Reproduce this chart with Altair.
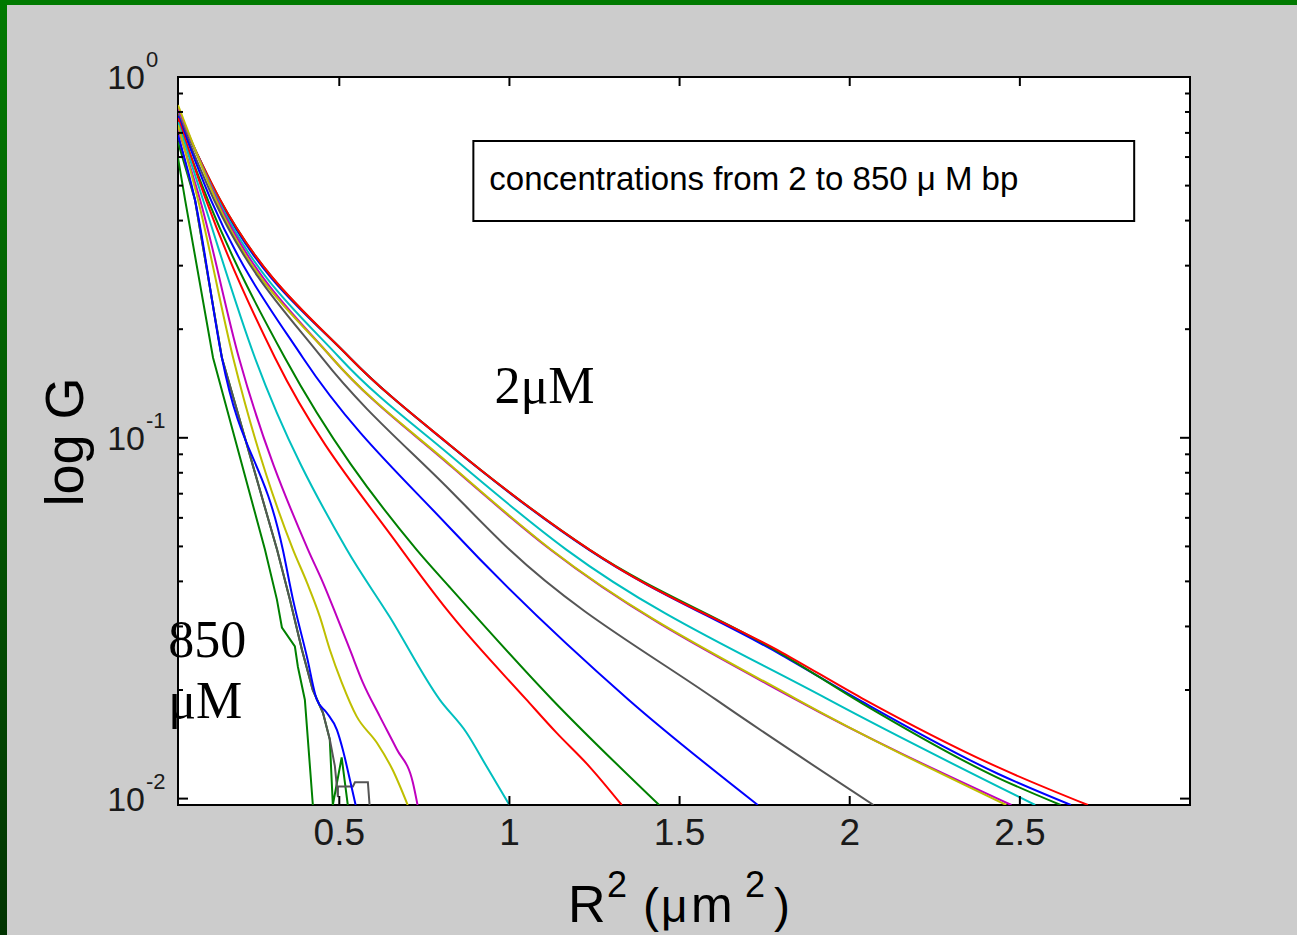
import altair as alt
import pandas as pd

# ---------------- data ----------------
# axis ranges
X_DOMAIN = [0.026, 3.0]
Y_DOMAIN = [0.0096, 1.0]

# tick values / labels
X_TICKS = [0.5, 1.0, 1.5, 2.0, 2.5]
X_TICK_LABELS = ["0.5", "1", "1.5", "2", "2.5"]
Y_MAJOR = [1.0, 0.1, 0.01]
Y_MAJOR_BASE = ["10", "10", "10"]
Y_MAJOR_EXP = ["0", "-1", "-2"]
Y_MINOR = [0.02, 0.03, 0.04, 0.05, 0.06, 0.07, 0.08, 0.09,
           0.2, 0.3, 0.4, 0.5, 0.6, 0.7, 0.8, 0.9]

# curves: R^2 (um^2) and G, from 2 uM (c01) to 850 uM (c17)
c01_r2 = [0.026, 0.145, 0.531, 0.824, 1.235, 1.314, 1.801, 2.035, 2.437, 2.70]
c01_g = [0.795, 0.466, 0.1667, 0.0957, 0.049, 0.0439, 0.0254, 0.0190, 0.0122, 0.0096]
c02_r2 = [0.026, 0.148, 0.531, 0.824, 1.235, 1.80, 2.035, 2.437, 2.65]
c02_g = [0.80, 0.456, 0.1667, 0.0955, 0.0488, 0.0250, 0.0186, 0.0117, 0.0096]
c03_r2 = [0.026, 0.150, 0.531, 0.824, 1.235, 1.80, 2.035, 2.437, 2.62]
c03_g = [0.79, 0.456, 0.1667, 0.0957, 0.049, 0.0252, 0.0184, 0.0114, 0.0096]
c04_r2 = [0.026, 0.144, 0.501, 0.824, 1.167, 1.938, 2.545]
c04_g = [0.81, 0.456, 0.1667, 0.0897, 0.049, 0.0188, 0.0096]
c05_r2 = [0.026, 0.141, 0.478, 0.824, 1.12, 1.842, 2.475]
c05_g = [0.82, 0.456, 0.1667, 0.0841, 0.049, 0.0188, 0.0096]
c06_r2 = [0.026, 0.138, 0.478, 0.824, 1.12, 1.842, 2.46]
c06_g = [0.836, 0.456, 0.1667, 0.0845, 0.0492, 0.0189, 0.0096]
c07_r2 = [0.026, 0.132, 0.449, 0.824, 1.0, 1.607, 2.07]
c07_g = [0.785, 0.456, 0.1667, 0.0718, 0.049, 0.0188, 0.0096]
c08_r2 = [0.026, 0.123, 0.393, 0.824, 1.35, 1.73]
c08_g = [0.78, 0.456, 0.1667, 0.0564, 0.0188, 0.0096]
c09_r2 = [0.026, 0.114, 0.340, 0.727, 0.824, 1.126, 1.44]
c09_g = [0.75, 0.456, 0.1667, 0.049, 0.0386, 0.0188, 0.0096]
c10_r2 = [0.026, 0.1085, 0.311, 0.683, 0.824, 1.050, 1.138, 1.235, 1.33]
c10_g = [0.77, 0.456, 0.1667, 0.049, 0.0327, 0.0188, 0.01523, 0.01227, 0.0096]
c11_r2 = [0.026, 0.0997, 0.252, 0.522, 0.648, 0.795, 0.874, 0.933, 1.0]
c11_g = [0.75, 0.456, 0.1667, 0.049, 0.0319, 0.0188, 0.01523, 0.01227, 0.0096]
c12_r2 = [0.026, 0.091, 0.205, 0.408, 0.452, 0.493, 0.531, 0.569, 0.619, 0.669, 0.716, 0.730]
c12_g = [0.72, 0.456, 0.1667, 0.049, 0.0397, 0.0319, 0.0259, 0.0210, 0.0169, 0.0137, 0.0111, 0.0096]
c13_r2 = [0.026, 0.085, 0.188, 0.364, 0.405, 0.443, 0.472, 0.507, 0.551, 0.610, 0.657, 0.701]
c13_g = [0.736, 0.456, 0.1667, 0.049, 0.0397, 0.0319, 0.0259, 0.0210, 0.0169, 0.0143, 0.0120, 0.0096]
c14_r2 = [0.026, 0.076, 0.155, 0.317, 0.355, 0.390, 0.422, 0.452, 0.472, 0.487, 0.496,
          0.496, 0.540, 0.546, 0.584, 0.589]
c14_g = [0.69, 0.456, 0.1667, 0.049, 0.0356, 0.0259, 0.0200, 0.0173, 0.0146, 0.0123, 0.0101,
         0.0108, 0.0108, 0.0111, 0.0111, 0.0096]
c15_r2 = [0.026, 0.076, 0.155, 0.334, 0.364, 0.405, 0.434, 0.463, 0.493, 0.510, 0.531, 0.548]
c15_g = [0.69, 0.456, 0.1667, 0.049, 0.0356, 0.0247, 0.0188, 0.0173, 0.0155, 0.0137, 0.0113, 0.0096]
c16_r2 = [0.026, 0.076, 0.155, 0.317, 0.355, 0.390, 0.422, 0.452, 0.472, 0.481, 0.507, 0.525]
c16_g = [0.66, 0.456, 0.1667, 0.049, 0.0356, 0.0259, 0.0200, 0.0173, 0.0146, 0.0096, 0.0130, 0.0096]
c17_r2 = [0.026, 0.047, 0.129, 0.2815, 0.3167, 0.3314, 0.3695, 0.3783, 0.3988, 0.4223]
c17_g = [0.597, 0.456, 0.1667, 0.049, 0.0356, 0.0298, 0.0264, 0.0232, 0.0188, 0.0096]

BLUE, GREEN, RED = "#0000FF", "#008000", "#FF0000"
CYAN, MAGENTA, YELLOW, GRAY = "#00BFBF", "#BF00BF", "#BFBF00", "#555555"

# drawing order (later = on top); last field: smooth interpolation or not
CURVES = [
    ("c02", BLUE, c02_r2, c02_g, True),
    ("c03", GREEN, c03_r2, c03_g, True),
    ("c01", RED, c01_r2, c01_g, True),
    ("c04", CYAN, c04_r2, c04_g, True),
    ("c05", MAGENTA, c05_r2, c05_g, True),
    ("c06", YELLOW, c06_r2, c06_g, True),
    ("c07", GRAY, c07_r2, c07_g, True),
    ("c08", BLUE, c08_r2, c08_g, True),
    ("c09", GREEN, c09_r2, c09_g, True),
    ("c10", RED, c10_r2, c10_g, True),
    ("c11", CYAN, c11_r2, c11_g, True),
    ("c12", MAGENTA, c12_r2, c12_g, True),
    ("c13", YELLOW, c13_r2, c13_g, True),
    ("c16", GREEN, c16_r2, c16_g, False),
    ("c14", GRAY, c14_r2, c14_g, False),
    ("c15", BLUE, c15_r2, c15_g, True),
    ("c17", GREEN, c17_r2, c17_g, False),
]

LEGEND_TEXT = "concentrations from 2 to 850 \u03bc M bp"
LEGEND_BOX = {"x": 0.894, "x2": 2.836, "y": 0.665, "y2": 0.399}
LEGEND_TEXT_POS = {"x": 0.941, "y": 0.486}
ANNOTATIONS = [("2\u03bcM", 0.956, 0.125), ("850", -0.003, 0.0247), ("\u03bcM", -0.003, 0.01676)]

# ---------------- layout ----------------
W, H = 1012, 728
PAD = {"left": 178, "top": 77, "right": 1297 - 178 - W, "bottom": 935 - 77 - H}
SANS = "Liberation Sans Narrow, Liberation Sans, Arial, sans-serif"
SANS_W = "Liberation Sans, Arial, sans-serif"
SERIF = "Liberation Serif, Times New Roman, serif"

x_scale = alt.Scale(domain=X_DOMAIN, nice=False, zero=False)
y_scale = alt.Scale(type="log", domain=Y_DOMAIN, nice=False)

one = pd.DataFrame({"a": [0]})
layers = []

# green slide border (decoration)
layers.append(alt.Chart(one).mark_rect(color="#007A00").encode(
    x=alt.value(-PAD["left"]), x2=alt.value(W + PAD["right"]),
    y=alt.value(-PAD["top"]), y2=alt.value(-PAD["top"] + 5)))
layers.append(alt.Chart(one).mark_rect(color={
    "gradient": "linear", "x1": 0, "x2": 0, "y1": 0, "y2": 1,
    "stops": [{"offset": 0, "color": "#007A00"}, {"offset": 1, "color": "#003300"}]}).encode(
    x=alt.value(-PAD["left"]), x2=alt.value(-PAD["left"] + 7),
    y=alt.value(-PAD["top"]), y2=alt.value(H + PAD["bottom"])))

# curves
for name, color, r2, g, smooth in CURVES:
    df = pd.DataFrame({"r2": r2, "g": g, "i": list(range(len(r2)))})
    layers.append(alt.Chart(df).mark_line(
        color=color, strokeWidth=2, clip=True,
        interpolate="monotone" if smooth else "linear").encode(
        x=alt.X("r2:Q", scale=x_scale, axis=None),
        y=alt.Y("g:Q", scale=y_scale, axis=None),
        order="i:Q"))

# inward ticks
xt = pd.DataFrame({"v": X_TICKS, "lab": X_TICK_LABELS})
layers.append(alt.Chart(xt).mark_rule(color="black", strokeWidth=2).encode(
    x=alt.X("v:Q", scale=x_scale, axis=None), y=alt.value(H), y2=alt.value(H - 9)))
layers.append(alt.Chart(xt).mark_rule(color="black", strokeWidth=2).encode(
    x=alt.X("v:Q", scale=x_scale, axis=None), y=alt.value(0), y2=alt.value(9)))
ym = pd.DataFrame({"v": Y_MAJOR, "base": Y_MAJOR_BASE, "exp": Y_MAJOR_EXP})
yn = pd.DataFrame({"v": Y_MINOR})
for d, ln in ((ym, 10), (yn, 5)):
    layers.append(alt.Chart(d).mark_rule(color="black", strokeWidth=2).encode(
        y=alt.Y("v:Q", scale=y_scale, axis=None), x=alt.value(0), x2=alt.value(ln)))
    layers.append(alt.Chart(d).mark_rule(color="black", strokeWidth=2).encode(
        y=alt.Y("v:Q", scale=y_scale, axis=None), x=alt.value(W), x2=alt.value(W - ln)))

# tick labels
layers.append(alt.Chart(xt).mark_text(align="center", baseline="alphabetic", font=SANS,
                                      fontSize=37, color="#1a1a1a").encode(
    x=alt.X("v:Q", scale=x_scale, axis=None), y=alt.value(H + 40), text="lab:N"))
layers.append(alt.Chart(ym).mark_text(align="right", baseline="alphabetic", dy=12, font=SANS,
                                      fontSize=34, color="#1a1a1a").encode(
    y=alt.Y("v:Q", scale=y_scale, axis=None), x=alt.value(-33), text="base:N"))
layers.append(alt.Chart(ym).mark_text(align="left", baseline="alphabetic", dy=-10, font=SANS,
                                      fontSize=22, color="#1a1a1a").encode(
    y=alt.Y("v:Q", scale=y_scale, axis=None), x=alt.value(-32), text="exp:N"))

# legend box
lb = pd.DataFrame({k: [v] for k, v in LEGEND_BOX.items()})
layers.append(alt.Chart(lb).mark_rect(fill="white", stroke="black", strokeWidth=2).encode(
    x=alt.X("x:Q", scale=x_scale, axis=None), x2="x2:Q",
    y=alt.Y("y:Q", scale=y_scale, axis=None), y2="y2:Q"))
lt = pd.DataFrame({"x": [LEGEND_TEXT_POS["x"]], "y": [LEGEND_TEXT_POS["y"]], "t": [LEGEND_TEXT]})
layers.append(alt.Chart(lt).mark_text(align="left", baseline="alphabetic", font=SANS_W,
                                      fontSize=33, color="black").encode(
    x=alt.X("x:Q", scale=x_scale, axis=None), y=alt.Y("y:Q", scale=y_scale, axis=None),
    text="t:N"))

# annotations
an = pd.DataFrame({"t": [a[0] for a in ANNOTATIONS], "x": [a[1] for a in ANNOTATIONS],
                   "y": [a[2] for a in ANNOTATIONS]})
layers.append(alt.Chart(an).mark_text(align="left", baseline="alphabetic", font=SERIF,
                                      fontSize=52, color="black").encode(
    x=alt.X("x:Q", scale=x_scale, axis=None), y=alt.Y("y:Q", scale=y_scale, axis=None),
    text="t:N"))

# axis titles (pieces so that superscripts are large as in the original)
XT_PIECES = [("R", 390, 845, 52), ("2", 429, 820, 36), ("(", 465, 845, 48),
             ("\u03bc", 483, 845, 46), ("m", 513, 845, 50), ("2", 567, 820, 36), (")", 596, 845, 48)]
for s, px, py, fs in XT_PIECES:
    layers.append(alt.Chart(pd.DataFrame({"t": [s]})).mark_text(
        align="left", baseline="alphabetic", font=SANS_W, fontSize=fs, color="black").encode(
        x=alt.value(px), y=alt.value(py), text="t:N"))
layers.append(alt.Chart(pd.DataFrame({"t": ["log G"]})).mark_text(
    align="center", baseline="alphabetic", angle=270, font=SANS_W, fontSize=54, color="black").encode(
    x=alt.value(-95), y=alt.value(365), text="t:N"))

chart = alt.layer(*layers).properties(
    width=W, height=H, padding=PAD,
    autosize=alt.AutoSizeParams(type="none"),
    background="#CCCCCC",
).configure_view(stroke="black", strokeWidth=2, fill="white")

chart.save("out.html", embed_options={"renderer": "svg", "actions": False})
